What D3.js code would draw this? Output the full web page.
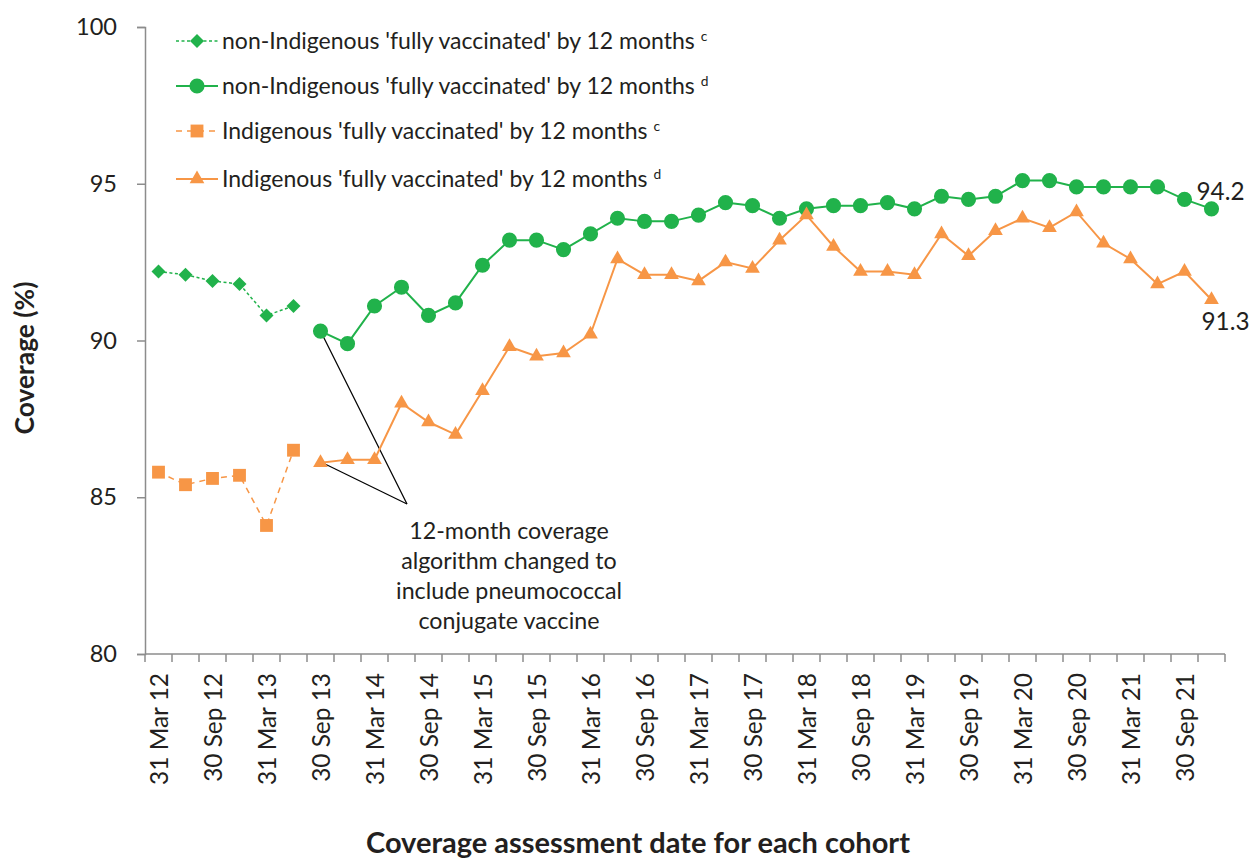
<!DOCTYPE html>
<html>
<head>
<meta charset="utf-8">
<script src="https://cdn.jsdelivr.net/npm/d3@7"></script>
<style>
  html, body { margin: 0; padding: 0; background: #fff; }
  svg text { font-family: Lato, "Open Sans", sans-serif; fill: #231f20; }
</style>
</head>
<body>
<svg id="chart" width="1251" height="858"></svg>
<script>
// Quarterly assessment dates (one cohort per quarter)
const categories = [
  "31 Mar 12","30 Jun 12","30 Sep 12","31 Dec 12",
  "31 Mar 13","30 Jun 13","30 Sep 13","31 Dec 13",
  "31 Mar 14","30 Jun 14","30 Sep 14","31 Dec 14",
  "31 Mar 15","30 Jun 15","30 Sep 15","31 Dec 15",
  "31 Mar 16","30 Jun 16","30 Sep 16","31 Dec 16",
  "31 Mar 17","30 Jun 17","30 Sep 17","31 Dec 17",
  "31 Mar 18","30 Jun 18","30 Sep 18","31 Dec 18",
  "31 Mar 19","30 Jun 19","30 Sep 19","31 Dec 19",
  "31 Mar 20","30 Jun 20","30 Sep 20","31 Dec 20",
  "31 Mar 21","30 Jun 21","30 Sep 21","31 Dec 21"
];
// Labelled dates on the x axis
const tickLabels = categories.filter((d, i) => i % 2 === 0);
const yTicks = [80, 85, 90, 95, 100];

// Old algorithm (c): Mar 12 – Jun 13
const nonIndigenousOld = [92.2, 92.1, 91.9, 91.8, 90.8, 91.1];
const indigenousOld    = [85.8, 85.4, 85.6, 85.7, 84.1, 86.5];
// New algorithm incl. pneumococcal conjugate vaccine (d): Sep 13 – Dec 21
const nonIndigenousNew = [90.3, 89.9, 91.1, 91.7, 90.8, 91.2, 92.4, 93.2, 93.2, 92.9,
  93.4, 93.9, 93.8, 93.8, 94.0, 94.4, 94.3, 93.9, 94.2, 94.3, 94.3, 94.4, 94.2, 94.6,
  94.5, 94.6, 95.1, 95.1, 94.9, 94.9, 94.9, 94.9, 94.5, 94.2];
const indigenousNew = [86.1, 86.2, 86.2, 88.0, 87.4, 87.0, 88.4, 89.8, 89.5, 89.6,
  90.2, 92.6, 92.1, 92.1, 91.9, 92.5, 92.3, 93.2, 94.0, 93.0, 92.2, 92.2, 92.1, 93.4,
  92.7, 93.5, 93.9, 93.6, 94.1, 93.1, 92.6, 91.8, 92.2, 91.3];

const legendLabels = [
  ["non-Indigenous 'fully vaccinated' by 12 months", "c"],
  ["non-Indigenous 'fully vaccinated' by 12 months", "d"],
  ["Indigenous 'fully vaccinated' by 12 months", "c"],
  ["Indigenous 'fully vaccinated' by 12 months", "d"]
];
const noteLines = ["12-month coverage", "algorithm changed to", "include pneumococcal", "conjugate vaccine"];

const GREEN = "#21b24b";
const ORANGE = "#f79646";
const AXIS = "#8c8c8c";

const svg = d3.select("#chart");
const plotLeft = 145, plotRight = 1225, plotTop = 27, plotBottom = 654;

// Measure a sample string and return the font size that gives it the wanted width
function sizeForWidth(sample, width, weight) {
  const t = svg.append("text").style("font-size", "20px")
    .style("font-weight", weight || "normal").text(sample);
  const w = t.node().getComputedTextLength();
  t.remove();
  return 20 * width / w;
}
const fsYTick = sizeForWidth("100", 41);
const fsXTick = sizeForWidth("31 Mar 12", 112);
const fsLegend = sizeForWidth(legendLabels[0][0], 473);
const fsNote = sizeForWidth(noteLines[2], 226);
const fsEnd = sizeForWidth("94.2", 48);
const fsYTitle = sizeForWidth("Coverage (%)", 153, "bold");
const fsXTitle = sizeForWidth("Coverage assessment date for each cohort", 544, "bold");

const x = d3.scaleBand().domain(categories).range([plotLeft, plotRight]).padding(0);
const cx = d => x(d) + x.bandwidth() / 2;
const y = d3.scaleLinear().domain([80, 100]).range([plotBottom, plotTop]);

// ---- Axes ----
const yAxis = svg.append("g").attr("transform", `translate(${plotLeft},0)`)
  .call(d3.axisLeft(y).tickValues(yTicks).tickSize(8).tickPadding(20));
yAxis.select(".domain").attr("stroke", AXIS).attr("stroke-width", 1.5);
yAxis.selectAll(".tick line").attr("stroke", AXIS).attr("stroke-width", 1.5);
yAxis.selectAll(".tick text").style("font-size", fsYTick + "px").attr("fill", "#231f20")
  .attr("font-family", null);

const xg = svg.append("g").attr("transform", `translate(0,${plotBottom})`);
xg.append("line").attr("x1", plotLeft).attr("x2", plotRight).attr("stroke", AXIS).attr("stroke-width", 1.5);
// tick marks at category boundaries
const edges = categories.map(d => x(d)).concat([plotRight]);
xg.selectAll("line.tk").data(edges).join("line").attr("class", "tk")
  .attr("x1", d => d).attr("x2", d => d).attr("y1", 0).attr("y2", 8)
  .attr("stroke", AXIS).attr("stroke-width", 1.5);
xg.selectAll("text.lab").data(tickLabels).join("text").attr("class", "lab")
  .attr("transform", d => `translate(${cx(d) + 9.5},${19}) rotate(-90)`)
  .attr("text-anchor", "end")
  .style("font-size", fsXTick + "px")
  .text(d => d);

// Axis titles
svg.append("text")
  .attr("transform", `translate(34,358) rotate(-90)`)
  .attr("text-anchor", "middle").style("font-size", fsYTitle + "px").style("font-weight", "bold")
  .text("Coverage (%)");
svg.append("text")
  .attr("x", 638).attr("y", 853)
  .attr("text-anchor", "middle").style("font-size", fsXTitle + "px").style("font-weight", "bold")
  .text("Coverage assessment date for each cohort");

// ---- Series ----
const oldCats = categories.slice(0, nonIndigenousOld.length);
const newCats = categories.slice(6, 6 + nonIndigenousNew.length);
const line = d3.line().x(d => cx(d[0])).y(d => y(d[1]));

const series = [
  { cats: oldCats, vals: nonIndigenousOld, color: GREEN, dash: "3,2.5", width: 1.5, sym: d3.symbolDiamond2, size: 125 },
  { cats: newCats, vals: nonIndigenousNew, color: GREEN, dash: null, width: 2, sym: d3.symbolCircle, size: 180 },
  { cats: oldCats, vals: indigenousOld, color: ORANGE, dash: "6,5", width: 1.5, sym: d3.symbolSquare2, size: 210 },
  { cats: newCats, vals: indigenousNew, color: ORANGE, dash: null, width: 2, sym: d3.symbolTriangle2, size: 155 }
];

// annotation pointer lines (drawn beneath the markers)
const tip = [407, 504];
const ann = svg.append("g");
ann.append("line").attr("x1", cx(newCats[0])).attr("y1", y(nonIndigenousNew[0]))
  .attr("x2", tip[0]).attr("y2", tip[1]).attr("stroke", "#000").attr("stroke-width", 1.2);
ann.append("line").attr("x1", cx(newCats[0]) + 4).attr("y1", y(indigenousNew[0]) + 1)
  .attr("x2", tip[0]).attr("y2", tip[1]).attr("stroke", "#000").attr("stroke-width", 1.2);

function symbolPath(s) {
  return d3.symbol().type(s.sym).size(s.size)();
}

series.forEach(s => {
  const pts = s.cats.map((c, i) => [c, s.vals[i]]);
  svg.append("path").datum(pts).attr("d", line)
    .attr("fill", "none").attr("stroke", s.color).attr("stroke-width", s.width)
    .attr("stroke-dasharray", s.dash);
  svg.append("g").selectAll("path").data(pts).join("path")
    .attr("transform", d => `translate(${cx(d[0])},${y(d[1])})`)
    .attr("d", symbolPath(s)).attr("fill", s.color);
});

// Annotation text
svg.append("g").selectAll("text").data(noteLines).join("text")
  .attr("x", 509).attr("y", (d, i) => 539 + i * 30)
  .attr("text-anchor", "middle").style("font-size", fsNote + "px")
  .text(d => d);

// End value labels
const lastCat = categories[categories.length - 1];
const lastNon = nonIndigenousNew[nonIndigenousNew.length - 1];
const lastInd = indigenousNew[indigenousNew.length - 1];
svg.append("text").attr("x", cx(lastCat) - 15).attr("y", y(lastNon) - 9)
  .style("font-size", fsEnd + "px").text(lastNon.toFixed(1));
svg.append("text").attr("x", cx(lastCat) - 10).attr("y", y(lastInd) + 30)
  .style("font-size", fsEnd + "px").text(lastInd.toFixed(1));

// ---- Legend ----
const lg = svg.append("g");
const rowY = [41, 86, 131, 179];
series.forEach((s, i) => {
  const g = lg.append("g").attr("transform", `translate(0,${rowY[i]})`);
  g.append("line").attr("x1", 176).attr("x2", 218).attr("stroke", s.color)
    .attr("stroke-width", s.width).attr("stroke-dasharray", s.dash);
  g.append("path").attr("transform", `translate(197,0)`).attr("d", symbolPath(s)).attr("fill", s.color);
  const t = g.append("text").attr("x", 222).attr("y", 8).style("font-size", fsLegend + "px");
  t.append("tspan").text(legendLabels[i][0] + "  ");
  t.append("tspan").attr("dy", -8).style("font-size", (fsLegend * 0.6) + "px").text(legendLabels[i][1]);
});
</script>
</body>
</html>
